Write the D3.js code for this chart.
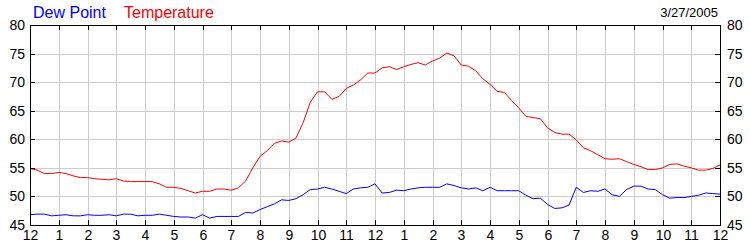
<!DOCTYPE html>
<html>
<head>
<meta charset="utf-8">
<script src="https://cdn.jsdelivr.net/npm/d3@7"></script>
<style>
  body { margin: 0; background: #fff; }
  svg { display: block; font-family: "Liberation Sans", Arial, sans-serif; }
  .tick text { fill: #000; font-size: 14px; }
  .grid line { stroke: #cccccc; stroke-width: 1; shape-rendering: crispEdges; }
  .axis .tick line { stroke: #000; shape-rendering: crispEdges; }
</style>
</head>
<body>
<div id="chart"></div>
<script>
var width = 750,
	height = 250,
	margin = {top: 25, right: 30, bottom: 25, left: 30};

var dateLabel = "3/27/2005";
var seriesNames = ["Dew Point", "Temperature"];
var seriesColors = ["#0000ff", "#ff0000"];

// readings every 15 minutes from midnight to midnight
var stepHours = 0.25;

var temperature = [
	54.9, 54.6, 54.0, 54.0, 54.2, 54.0, 53.6, 53.3, 53.3, 53.1, 53.0, 52.9,
	53.1, 52.7, 52.6, 52.6, 52.6, 52.6, 52.2, 51.6, 51.6, 51.4, 51.0, 50.6,
	50.9, 50.9, 51.3, 51.3, 51.1, 51.5, 52.7, 55.0, 57.0, 58.0, 59.3, 59.7,
	59.5, 60.2, 62.9, 66.5, 68.3, 68.3, 67.0, 67.5, 68.9, 69.5, 70.4, 71.6,
	71.6, 72.5, 72.7, 72.2, 72.7, 73.1, 73.4, 73.0, 73.7, 74.2, 75.1, 74.6,
	73.0, 72.8, 72.0, 70.6, 69.6, 68.4, 68.2, 66.8, 65.5, 64.0, 63.8, 63.6,
	62.0, 61.2, 60.9, 60.9, 59.9, 58.5, 58.0, 57.3, 56.6, 56.5, 56.6, 56.1,
	55.6, 55.2, 54.7, 54.7, 55.0, 55.6, 55.7, 55.3, 55.0, 54.6, 54.6, 54.9,
	55.5
];

var dewPoint = [
	46.8, 46.9, 46.9, 46.6, 46.7, 46.8, 46.6, 46.6, 46.8, 46.7, 46.7, 46.8,
	46.6, 46.9, 46.9, 46.6, 46.7, 46.7, 46.9, 46.7, 46.5, 46.4, 46.4, 46.2,
	46.8, 46.2, 46.5, 46.5, 46.5, 46.5, 47.2, 47.1, 47.7, 48.2, 48.7, 49.4,
	49.3, 49.6, 50.3, 51.2, 51.3, 51.6, 51.3, 50.9, 50.5, 51.3, 51.5, 51.6,
	52.2, 50.6, 50.7, 51.1, 51.0, 51.3, 51.5, 51.6, 51.6, 51.6, 52.2, 51.9,
	51.5, 51.3, 51.5, 51.0, 51.6, 51.0, 51.0, 51.0, 51.0, 50.2, 49.6, 49.7,
	48.6, 47.9, 48.0, 48.5, 51.6, 50.7, 51.0, 50.9, 51.3, 50.3, 50.0, 51.2,
	51.8, 51.8, 51.3, 51.2, 50.3, 49.7, 49.8, 49.8, 50.0, 50.2, 50.6, 50.5,
	50.4
];

var hourTicks = [0, 1, 2, 3, 4, 5, 6, 7, 8, 9, 10, 11, 12, 13, 14, 15, 16, 17, 18, 19, 20, 21, 22, 23, 24];
var hourLabels = ["12", "1", "2", "3", "4", "5", "6", "7", "8", "9", "10", "11",
	"12", "1", "2", "3", "4", "5", "6", "7", "8", "9", "10", "11", "12"];
var yTicks = [45, 50, 55, 60, 65, 70, 75, 80];

var x = d3.scaleLinear()
		.domain([0, 24])
		.range([margin.left, width - margin.right]),
	y = d3.scaleLinear()
		.domain([45, 80])
		.range([height - margin.bottom, margin.top]);

// pixel-snapped copies for grid and ticks
var xr = x.copy().interpolate(d3.interpolateRound),
	yr = y.copy().interpolate(d3.interpolateRound);

var svg = d3.select("#chart")
		.append("svg")
		.attr("width", width)
		.attr("height", height);

var grid = svg.append("g").attr("class", "grid");

grid.selectAll("line.v")
	.data(hourTicks).enter()
	.append("line")
	.attr("class", "v")
	.attr("x1", function(d){ return xr(d) + 0.5; })
	.attr("x2", function(d){ return xr(d) + 0.5; })
	.attr("y1", margin.top)
	.attr("y2", height - margin.bottom);

grid.selectAll("line.h")
	.data(yTicks).enter()
	.append("line")
	.attr("class", "h")
	.attr("x1", margin.left)
	.attr("x2", width - margin.right)
	.attr("y1", function(d){ return yr(d) + 0.5; })
	.attr("y2", function(d){ return yr(d) + 0.5; });

// series
var line = d3.line()
	.x(function(d, i){ return x(i * stepHours); })
	.y(function(d){ return y(d); });

svg.append("path")
	.datum(dewPoint)
	.attr("fill", "none")
	.attr("stroke", seriesColors[0])
	.attr("stroke-width", 1)
	.attr("d", line);

svg.append("path")
	.datum(temperature)
	.attr("fill", "none")
	.attr("stroke", seriesColors[1])
	.attr("stroke-width", 1)
	.attr("d", line);

// frame
svg.append("rect")
	.attr("x", margin.left + 0.5)
	.attr("y", margin.top + 0.5)
	.attr("width", width - margin.left - margin.right)
	.attr("height", height - margin.top - margin.bottom)
	.attr("fill", "none")
	.attr("stroke", "#000")
	.attr("shape-rendering", "crispEdges");

// axes, ticks point inward
svg.append("g")
	.attr("class", "axis")
	.attr("transform", "translate(" + margin.left + ",0)")
	.call(d3.axisLeft(yr).tickValues(yTicks).tickSize(-5).tickSizeOuter(0).tickPadding(5))
	.call(function(g){ g.select(".domain").remove(); });

svg.append("g")
	.attr("class", "axis")
	.attr("transform", "translate(" + (width - margin.right) + ",0)")
	.call(d3.axisRight(yr).tickValues(yTicks).tickSize(-5).tickSizeOuter(0).tickPadding(7))
	.call(function(g){ g.select(".domain").remove(); });

svg.append("g")
	.attr("class", "axis")
	.attr("transform", "translate(0," + (height - margin.bottom) + ")")
	.call(d3.axisBottom(xr).tickValues(hourTicks).tickSize(-5).tickSizeOuter(0).tickPadding(5)
		.tickFormat(function(d, i){ return hourLabels[i]; }))
	.call(function(g){ g.select(".domain").remove(); });

svg.append("g")
	.attr("class", "axis")
	.attr("transform", "translate(0," + margin.top + ")")
	.call(d3.axisTop(xr).tickValues(hourTicks).tickSize(-5).tickSizeOuter(0).tickFormat(""))
	.call(function(g){ g.select(".domain").remove(); });

// legend and date
svg.append("text")
	.attr("x", 33)
	.attr("y", 18)
	.attr("font-size", "16px")
	.attr("fill", seriesColors[0])
	.text(seriesNames[0]);

svg.append("text")
	.attr("x", 124)
	.attr("y", 18)
	.attr("font-size", "16px")
	.attr("fill", seriesColors[1])
	.text(seriesNames[1]);

svg.append("text")
	.attr("x", 718)
	.attr("y", 17)
	.attr("font-size", "13px")
	.attr("text-anchor", "end")
	.attr("fill", "#000")
	.text(dateLabel);
</script>
</body>
</html>
